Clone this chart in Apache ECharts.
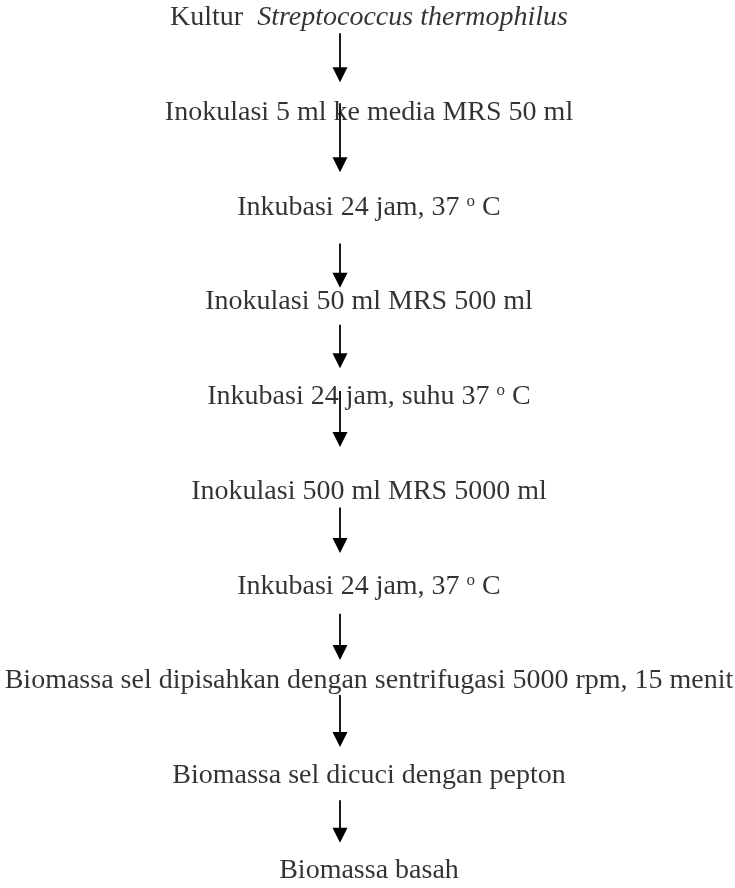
<!DOCTYPE html>
<html>
<head>
<meta charset="utf-8">
<script src="https://cdn.jsdelivr.net/npm/echarts@6/dist/echarts.min.js"></script>
<style>
  html, body { margin: 0; padding: 0; background: #fff; }
  #chart { width: 735px; height: 888px; }
</style>
</head>
<body>
<div id="chart"></div>
<script>
// steps of the flow, top to bottom ({i|..} italic, {s|o} superscript)
const steps = [
  'Kultur  {i|Streptococcus thermophilus}',
  'Inokulasi 5 ml ke media MRS 50 ml',
  'Inkubasi 24 jam, 37 {s|o} C',
  'Inokulasi 50 ml MRS 500 ml',
  'Inkubasi 24 jam, suhu 37 {s|o} C',
  'Inokulasi 500 ml MRS 5000 ml',
  'Inkubasi 24 jam, 37 {s|o} C',
  'Biomassa sel dipisahkan dengan sentrifugasi 5000 rpm, 15 menit',
  'Biomassa sel dicuci dengan pepton',
  'Biomassa basah'
]
// arrow start / end, in step units
const arrowFrom = [0.16, 0.90, 2.38, 3.24, 3.94, 5.17, 6.29, 7.15, 8.26]
const arrowTo   = [0.60, 1.55, 2.77, 3.62, 4.45, 5.57, 6.70, 7.62, 8.63]

const textX = 369
const arrowX = 340

let chart = echarts.init(document.getElementById('chart'))

const font = 'Liberation Serif'
const option = {
  backgroundColor: '#fff',
  animation: false,
  grid: { left: 0, right: 0, top: 0, bottom: 0 },
  xAxis: { type: 'value', min: 0, max: 735, show: false },
  yAxis: { type: 'value', min: -0.19, max: 9.187, inverse: true, show: false },
  series: [
    {
      type: 'scatter',
      symbolSize: 0,
      data: steps.map((s, i) => [textX, i, s]),
      label: {
        show: true,
        position: 'inside',
        formatter: p => p.data[2],
        color: '#000',
        fontFamily: font,
        fontSize: 28,
        rich: {
          i: { fontFamily: font, fontSize: 28, fontStyle: 'italic', color: '#000' },
          s: { fontFamily: font, fontSize: 17, color: '#000', verticalAlign: 'top', padding: [0, 0, 12, 0] }
        }
      }
    },
    {
      type: 'lines',
      coordinateSystem: 'cartesian2d',
      symbol: ['none', 'triangle'],
      symbolSize: 15,
      lineStyle: { color: '#000', width: 1.8, opacity: 1 },
      data: arrowFrom.map((a, i) => ({ coords: [[arrowX, a], [arrowX, arrowTo[i]]] }))
    }
  ]
}
chart.setOption(option)
</script>
</body>
</html>
